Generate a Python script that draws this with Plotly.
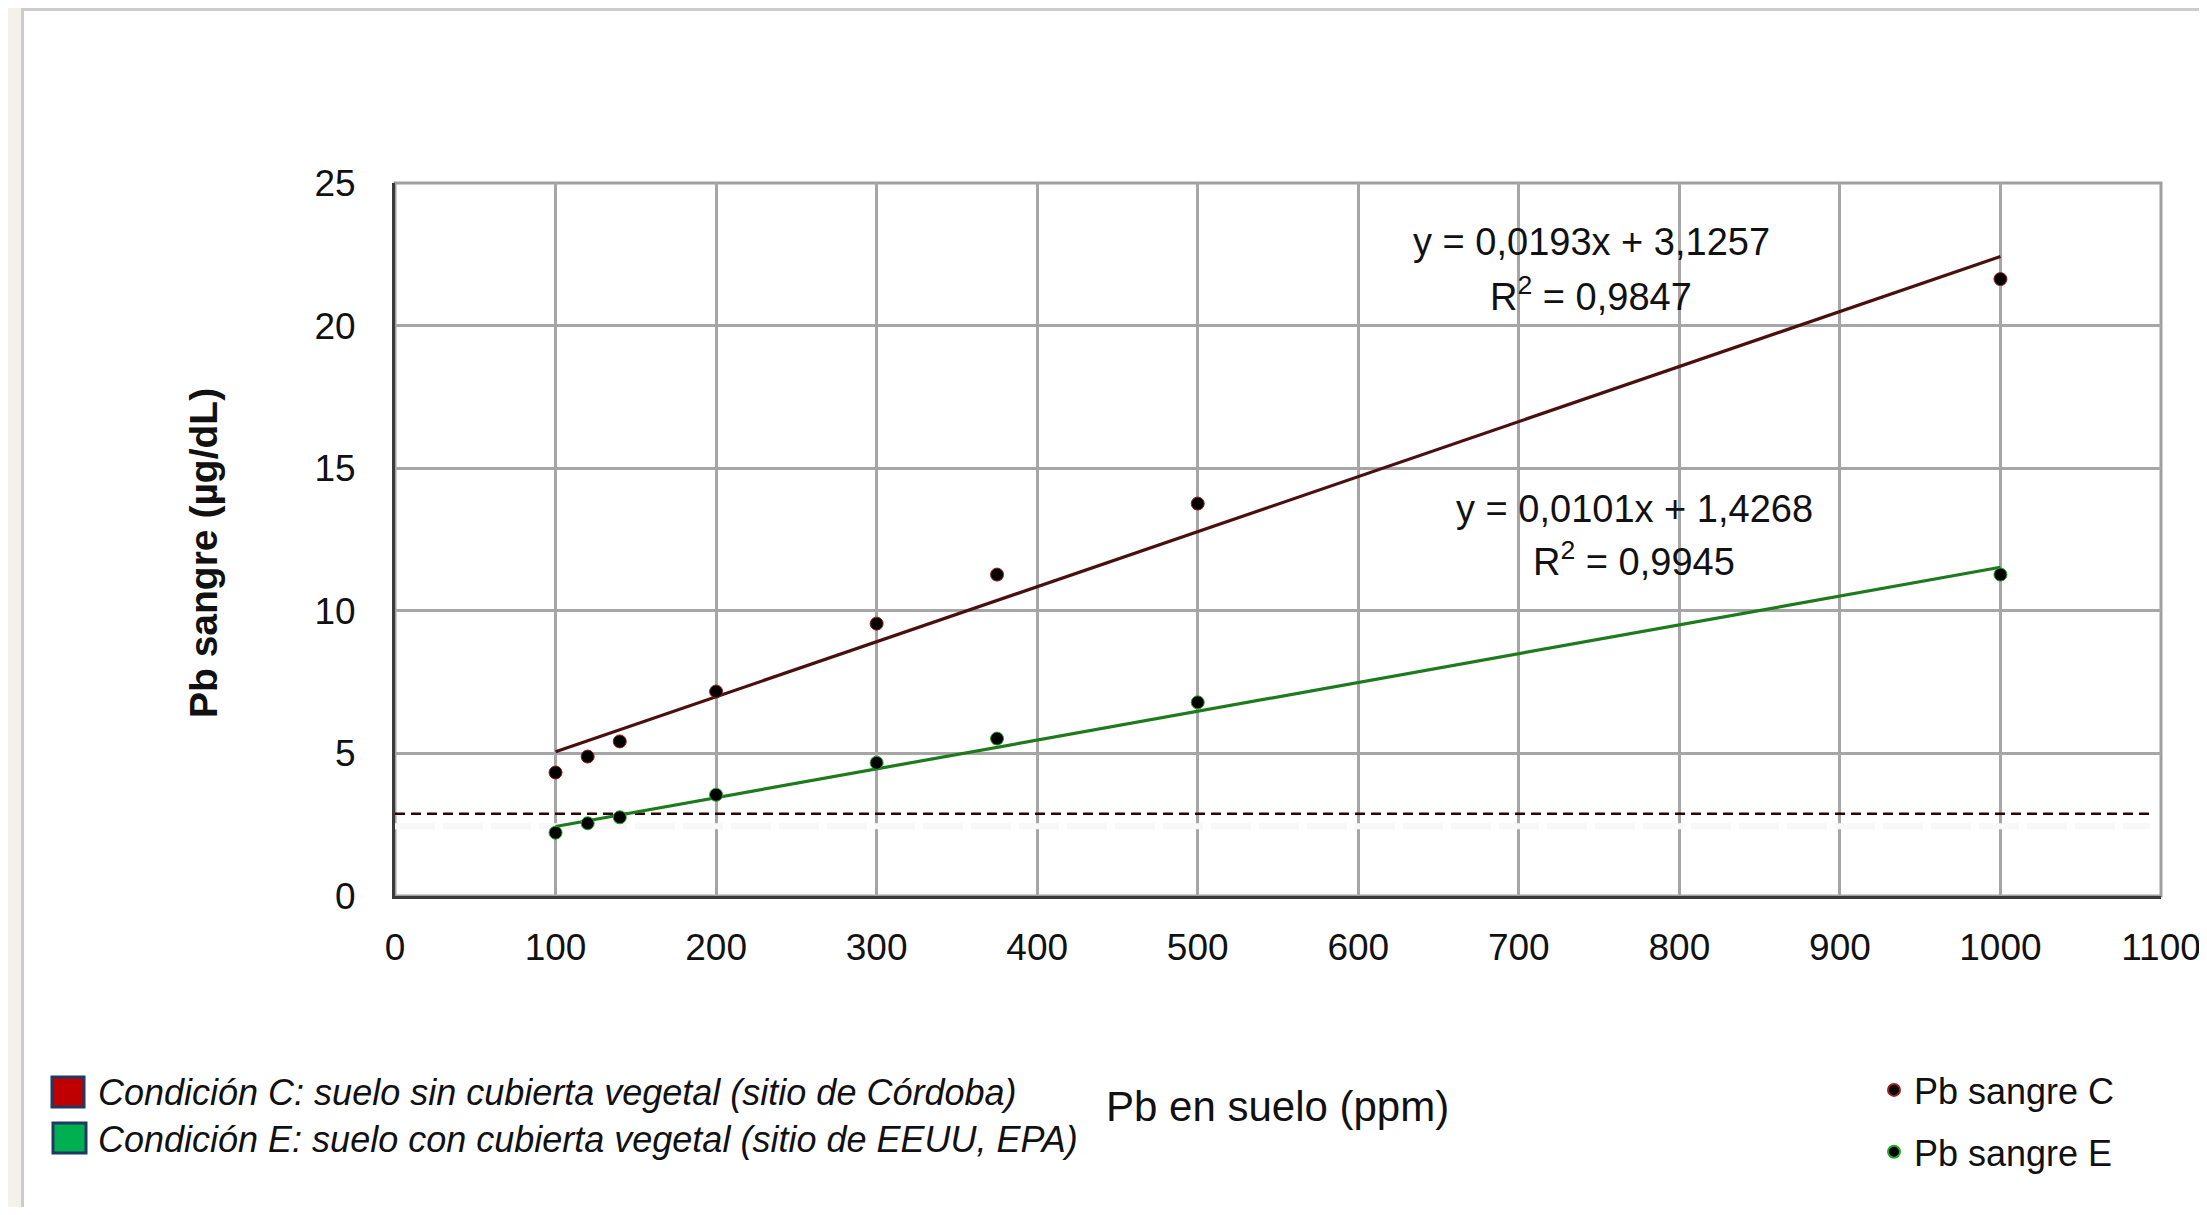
import plotly.graph_objects as go

# ---------------- data ----------------
pb_suelo = [100, 120, 140, 200, 300, 375, 500, 1000]
pb_sangre_c = [4.33, 4.89, 5.42, 7.17, 9.55, 11.27, 13.76, 21.63]
pb_sangre_e = [2.22, 2.55, 2.76, 3.55, 4.67, 5.52, 6.79, 11.27]

fit_c = {"slope": 0.0193, "intercept": 3.1257, "r2": "0,9847"}
fit_e = {"slope": 0.0101, "intercept": 1.4268, "r2": "0,9945"}
fit_x = [100, 1000]

threshold_y = 2.88
threshold_x = [0, 1093]

x_ticks = list(range(0, 1101, 100))
y_ticks = list(range(0, 26, 5))

legend_left = [
    ("Condición C: suelo sin cubierta vegetal (sitio de Córdoba)", "#c00000"),
    ("Condición E: suelo con cubierta vegetal (sitio de EEUU, EPA)", "#00b050"),
]

# ---------------- geometry (page pixels; the page body has an 8px margin) ----------------
PAGE_W, PAGE_H = 2207, 1215
OFF = 8
W, H = PAGE_W - OFF - 4, PAGE_H - 2 * OFF
PL, PR, PT, PB = 395, 2161, 183, 896          # plot area edges in page pixels
L, T = PL - OFF, PT - OFF
R, B = W - (PR - OFF), H - (PB - OFF)
PW, PH = PR - PL, PB - PT


def px(x):
    return (x - PL) / PW


def py(y):
    return (PB - y) / PH


FONT = "Liberation Sans, Arial, sans-serif"
TXT = "#111111"

fig = go.Figure()

# threshold line (with faint shadow)
fig.add_trace(go.Scatter(x=threshold_x, y=[threshold_y - 0.43] * 2, mode="lines",
                         line=dict(color="#f8f8f8", width=6, dash="40px,8px"),
                         showlegend=False, hoverinfo="skip"))
fig.add_trace(go.Scatter(x=threshold_x, y=[threshold_y] * 2, mode="lines",
                         line=dict(color="#2a0505", width=2.5, dash="10px,6px"),
                         showlegend=False, hoverinfo="skip"))

# trend lines
for fit, col in [(fit_c, "#4a1010"), (fit_e, "#1d7a1d")]:
    fig.add_trace(go.Scatter(
        x=fit_x, y=[fit["slope"] * v + fit["intercept"] for v in fit_x],
        mode="lines", line=dict(color=col, width=3.2), showlegend=False, hoverinfo="skip"))

# data points
fig.add_trace(go.Scatter(x=pb_suelo, y=pb_sangre_c, mode="markers", name="Pb sangre C",
                         legendgroup="c",
                         marker=dict(color="#000000", size=13, line=dict(color="#9b2020", width=1))))
fig.add_trace(go.Scatter(x=pb_suelo, y=pb_sangre_e, mode="markers", name="Pb sangre E",
                         legendgroup="e",
                         marker=dict(color="#000000", size=13, line=dict(color="#22aa22", width=1))))

shapes = []
# page decoration: beige strip on the left and grey edge lines
shapes.append(dict(type="rect", xref="paper", yref="paper", x0=px(0), x1=px(21), y0=py(0), y1=py(PAGE_H),
                   fillcolor="#f4f0eb", line=dict(width=0), layer="below"))
shapes.append(dict(type="rect", xref="paper", yref="paper", x0=px(21), x1=px(PAGE_W), y0=py(8), y1=py(11),
                   fillcolor="#cccccc", line=dict(width=0), layer="below"))
shapes.append(dict(type="rect", xref="paper", yref="paper", x0=px(21), x1=px(24), y0=py(8), y1=py(PAGE_H),
                   fillcolor="#cccccc", line=dict(width=0), layer="below"))
# plot frame (top/right grey)
shapes.append(dict(type="rect", xref="paper", yref="paper", x0=0, x1=1, y0=0, y1=1,
                   line=dict(color="#a0a0a0", width=3), layer="between"))
# left legend swatches
sw = [(52, 84, 1077, 1107), (53, 86, 1123, 1153)]
for (x0, x1, y0, y1), (_, col) in zip(sw, legend_left):
    shapes.append(dict(type="rect", xref="paper", yref="paper", x0=px(x0), x1=px(x1),
                       y0=py(y1), y1=py(y0), fillcolor=col, line=dict(color="#1f3864", width=3)))

annotations = []
# equations
for (cx, cy1, cy2), fit in [((1591, 242, 294), fit_c), ((1634, 509, 559), fit_e)]:
    s = f"{fit['slope']:.4f}".replace(".", ",")
    i = f"{fit['intercept']:.4f}".replace(".", ",")
    annotations.append(dict(xref="paper", yref="paper", x=px(cx), y=py(cy1), text=f"y = {s}x + {i}",
                            showarrow=False, xanchor="center", yanchor="middle",
                            font=dict(family=FONT, size=38, color=TXT)))
    annotations.append(dict(xref="paper", yref="paper", x=px(cx), y=py(cy2),
                            text=f"R<sup>2</sup> = {fit['r2']}",
                            showarrow=False, xanchor="center", yanchor="middle",
                            font=dict(family=FONT, size=38, color=TXT)))
# axis titles
annotations.append(dict(xref="paper", yref="paper", x=px(203), y=py(553), text="<b>Pb sangre (µg/dL)</b>",
                        textangle=-90, showarrow=False, xanchor="center", yanchor="middle",
                        font=dict(family=FONT, size=39, color=TXT)))
annotations.append(dict(xref="paper", yref="paper", x=px(1277), y=py(1106), text="Pb en suelo (ppm)",
                        showarrow=False, xanchor="center", yanchor="middle",
                        font=dict(family=FONT, size=42, color=TXT)))
# left legend texts
for (label, _), cy in zip(legend_left, [1092, 1139]):
    annotations.append(dict(xref="paper", yref="paper", x=px(96), y=py(cy), text=f"<i>{label}</i>",
                            showarrow=False, xanchor="left", yanchor="middle",
                            font=dict(family=FONT, size=36, color=TXT)))

fig.update_layout(
    width=W, height=H, autosize=False,
    margin=dict(l=L, r=R, t=T, b=B, autoexpand=False),
    paper_bgcolor="#ffffff", plot_bgcolor="#ffffff",
    font=dict(family=FONT, size=37, color=TXT),
    shapes=shapes, annotations=annotations,
    showlegend=True,
    legend=dict(x=px(1874), y=py(1060), xanchor="left", yanchor="top",
                font=dict(family=FONT, size=36, color=TXT), bgcolor="rgba(0,0,0,0)",
                itemsizing="constant", tracegroupgap=12, traceorder="grouped"),
    xaxis=dict(range=[0, 1100], tickvals=x_ticks, ticktext=[str(v) for v in x_ticks],
               showgrid=True, gridcolor="#a6a6a6", gridwidth=2.5, zeroline=False,
               showline=True, linecolor="#3a3a3a", linewidth=3, automargin=False,
               ticks="outside", ticklen=17, tickcolor="rgba(0,0,0,0)",
               ticklabeloverflow="allow",
               tickfont=dict(family=FONT, size=37, color=TXT)),
    yaxis=dict(range=[0, 25], tickvals=y_ticks, ticktext=[str(v) for v in y_ticks],
               showgrid=True, gridcolor="#a6a6a6", gridwidth=2.5, zeroline=False,
               showline=True, linecolor="#3a3a3a", linewidth=3, automargin=False,
               ticks="outside", ticklen=29, tickcolor="rgba(0,0,0,0)",
               tickfont=dict(family=FONT, size=37, color=TXT)),
)

fig.write_html("out.html")
